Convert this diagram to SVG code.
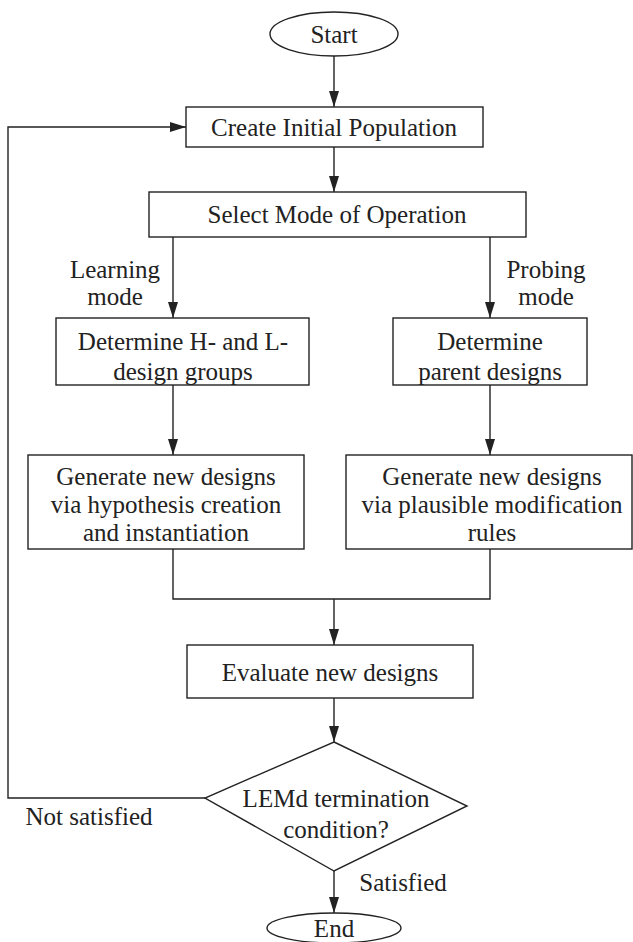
<svg xmlns="http://www.w3.org/2000/svg" width="633" height="942" viewBox="0 0 633 942">
<style>
.n{fill:#fff;stroke:#222;stroke-width:1.4}
.c{fill:none;stroke:#222;stroke-width:1.4}
.t{font-family:'Liberation Serif','DejaVu Serif','Times New Roman',serif;font-size:25px;fill:#222;text-anchor:middle}
</style>
<defs>
<marker id="ah" markerWidth="16" markerHeight="10" refX="16" refY="5" orient="auto" markerUnits="userSpaceOnUse">
<path d="M0,0 L16,5 L0,10 Z" fill="#222"/>
</marker>
</defs>
<rect width="633" height="942" fill="#fff"/>
<g id="connectors">
<line class="c" x1="334" y1="56" x2="334" y2="107" marker-end="url(#ah)"/>
<line class="c" x1="334" y1="147" x2="334" y2="192" marker-end="url(#ah)"/>
<line class="c" x1="173" y1="237" x2="173" y2="318" marker-end="url(#ah)"/>
<line class="c" x1="490" y1="237" x2="490" y2="318" marker-end="url(#ah)"/>
<line class="c" x1="173" y1="385" x2="173" y2="455" marker-end="url(#ah)"/>
<line class="c" x1="490" y1="385" x2="490" y2="455" marker-end="url(#ah)"/>
<polyline class="c" points="173,549 173,599 490,599 490,549"/>
<line class="c" x1="334" y1="599" x2="334" y2="645" marker-end="url(#ah)"/>
<line class="c" x1="334" y1="698" x2="334" y2="742" marker-end="url(#ah)"/>
<polyline class="c" points="205,798 8,798 8,127 186,127" marker-end="url(#ah)"/>
<line class="c" x1="334" y1="871" x2="334" y2="913" marker-end="url(#ah)"/>
</g>
<g id="labels" class="t">
<text x="115" y="278">Learning</text>
<text x="115" y="305">mode</text>
<text x="546" y="278">Probing</text>
<text x="546" y="305">mode</text>
<text x="89" y="825">Not satisfied</text>
<text x="403" y="891">Satisfied</text>
</g>
<g id="start" class="t"><ellipse class="n" cx="334" cy="34" rx="64" ry="22"/><text x="334" y="43">Start</text></g>
<g id="create" class="t"><rect class="n" x="186" y="107" width="297" height="40"/><text x="334" y="136">Create Initial Population</text></g>
<g id="select" class="t"><rect class="n" x="149" y="192" width="377" height="45"/><text x="337" y="223">Select Mode of Operation</text></g>
<g id="determineHL" class="t"><rect class="n" x="56" y="318" width="253" height="67"/><text x="183" y="350">Determine H- and L-</text><text x="183" y="380">design groups</text></g>
<g id="determineParent" class="t"><rect class="n" x="393" y="318" width="194" height="67"/><text x="490" y="350">Determine</text><text x="490" y="380">parent designs</text></g>
<g id="generateLeft" class="t"><rect class="n" x="28" y="455" width="276" height="94"/><text x="166" y="485">Generate new designs</text><text x="166" y="513">via hypothesis creation</text><text x="166" y="541">and instantiation</text></g>
<g id="generateRight" class="t"><rect class="n" x="346" y="455" width="286" height="94"/><text x="492" y="485">Generate new designs</text><text x="492" y="513">via plausible modification</text><text x="492" y="541">rules</text></g>
<g id="evaluate" class="t"><rect class="n" x="187" y="645" width="286" height="53"/><text x="330" y="681">Evaluate new designs</text></g>
<g id="decision" class="t"><polygon class="n" points="334,742 467,806 334,871 205,798"/><text x="336" y="807">LEMd termination</text><text x="336" y="838">condition?</text></g>
<g id="end" class="t"><ellipse class="n" cx="334" cy="928" rx="67" ry="15"/><text x="334" y="937">End</text></g>
</svg>
